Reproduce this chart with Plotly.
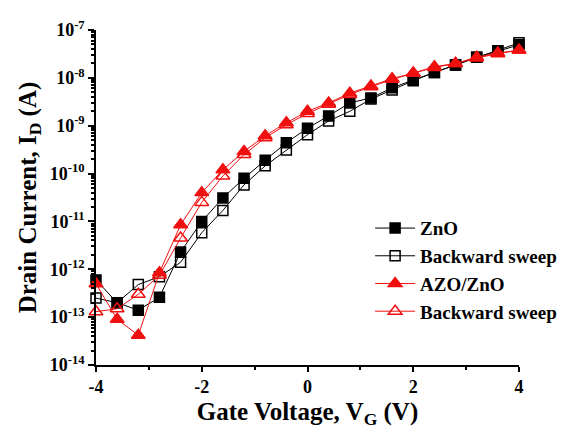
import plotly.graph_objects as go

vg = [-4.0, -3.6, -3.2, -2.8, -2.4, -2.0, -1.6, -1.2, -0.8, -0.4, 0.0,
      0.4, 0.8, 1.2, 1.6, 2.0, 2.4, 2.8, 3.2, 3.6, 4.0]

zno = [6e-13, 2.0e-13, 1.4e-13, 2.6e-13, 2.3e-12, 1.0e-11, 3.1e-11, 8.0e-11,
       1.9e-10, 4.4e-10, 8.9e-10, 1.6e-9, 3.0e-9, 3.8e-9, 6.2e-9, 9.1e-9,
       1.3e-8, 1.85e-8, 2.7e-8, 3.6e-8, 4.9e-8]
zno_back = [2.5e-13, 2.0e-13, 4.8e-13, 7.0e-13, 1.4e-12, 5.8e-12, 1.7e-11,
            5.8e-11, 1.45e-10, 3.1e-10, 6.5e-10, 1.26e-9, 2.0e-9, 3.6e-9,
            5.6e-9, 8.7e-9, 1.3e-8, 1.85e-8, 2.7e-8, 3.7e-8, 5.4e-8]
azo = [5e-13, 9e-14, 4.2e-14, 8.5e-13, 8.5e-12, 4.0e-11, 1.2e-10, 2.9e-10,
       6.2e-10, 1.15e-9, 2.0e-9, 3.0e-9, 4.8e-9, 6.8e-9, 9.6e-9, 1.26e-8,
       1.7e-8, 2.0e-8, 2.7e-8, 3.3e-8, 3.8e-8]
azo_back = [1.3e-13, 1.5e-13, 3.0e-13, 7.5e-13, 4.5e-12, 2.5e-11, 8.9e-11,
            2.5e-10, 5.6e-10, 1.05e-9, 1.8e-9, 2.8e-9, 4.5e-9, 6.5e-9, 9.3e-9,
            1.25e-8, 1.65e-8, 2.0e-8, 2.6e-8, 3.2e-8, 3.8e-8]

names = ["ZnO", "Backward sweep", "AZO/ZnO", "Backward sweep"]
x_ticks = [-4, -2, 0, 2, 4]
x_minor = [-3, -1, 1, 3]
y_exps = [-14, -13, -12, -11, -10, -9, -8, -7]

FONT = "Liberation Serif"
RED = "#f01010"

fig = go.Figure()
series = [
    (zno, names[0], "black", "square", "black", 10),
    (zno_back, names[1], "black", "square-open", "black", 10),
    (azo, names[2], RED, "triangle-up", RED, 12),
    (azo_back, names[3], RED, "triangle-up-open", RED, 12),
]
for i, (ys, nm, lc, sym, mc, ms) in enumerate(series):
    fig.add_trace(go.Scatter(
        x=vg, y=ys, name=nm, mode="lines+markers",
        line=dict(color=lc, width=1),
        marker=dict(symbol=sym, color=mc, size=ms, line=dict(color=mc, width=1.5)),
        cliponaxis=False,
    ))

minor_vals = [k * 10.0 ** e for e in y_exps[:-1] for k in range(2, 10)]

fig.update_layout(
    width=566, height=430,
    margin=dict(l=88, r=50, t=22, b=73),
    plot_bgcolor="white", paper_bgcolor="white",
    font=dict(family=FONT, color="black", weight="bold"),
    showlegend=True,
    legend=dict(x=0.648, y=0.465, xanchor="left", yanchor="top",
                bgcolor="rgba(0,0,0,0)", font=dict(size=19, family=FONT, weight="bold"),
                tracegroupgap=0, itemwidth=40),
    xaxis=dict(range=[-4, 4], showgrid=False, zeroline=False, automargin=False,
               showline=True, linecolor="black", linewidth=1.5,
               ticks="outside", ticklen=5, tickwidth=1.5, tickcolor="black",
               tickvals=x_ticks, ticktext=[str(v) for v in x_ticks],
               tickfont=dict(size=18, family=FONT, weight="bold"),
               minor=dict(tickvals=x_minor, ticks="outside", ticklen=3, tickcolor="black"),
               title=dict(text="Gate Voltage, V<sub>G</sub> (V)", standoff=6,
                          font=dict(size=25, family=FONT, weight="bold"))),
    yaxis=dict(type="log", range=[-14, -7], showgrid=False, zeroline=False, automargin=False,
               showline=True, linecolor="black", linewidth=1.5,
               ticks="outside", ticklen=6, tickwidth=1.5, tickcolor="black",
               tickvals=[10.0 ** e for e in y_exps],
               ticktext=[f"10<sup>{e}</sup>" for e in y_exps],
               tickfont=dict(size=18, family=FONT, weight="bold"),
               minor=dict(tickvals=minor_vals, ticks="outside", ticklen=3, tickcolor="black"),
               title=dict(text="Drain Current, I<sub>D</sub> (A)", standoff=6,
                          font=dict(size=25, family=FONT, weight="bold"))),
)

fig.write_html("out.html")
